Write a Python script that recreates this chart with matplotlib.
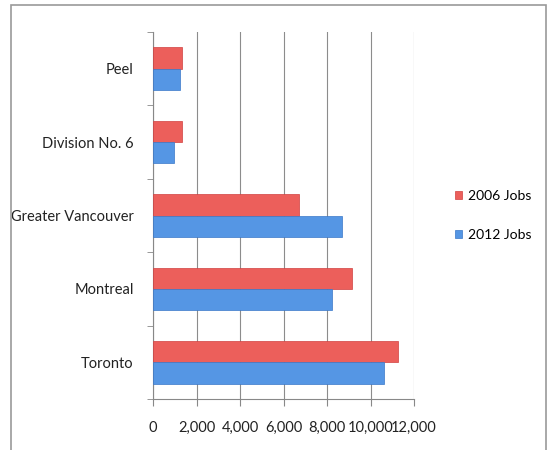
import matplotlib.pyplot as plt
from matplotlib.patches import Rectangle
import numpy as np

# Données
regions = ['Toronto', 'Montreal', 'Greater Vancouver', 'Division No. 6', 'Peel']
jobs_2006 = [11260, 9150, 6710, 1330, 1330]
jobs_2012 = [10620, 8230, 8690, 970, 1240]
xticks = [0, 2000, 4000, 6000, 8000, 10000, 12000]
xtick_labels = ['0', '2,000', '4,000', '6,000', '8,000', '10,000', '12,000']

plt.rcParams['font.family'] = ['Lato', 'DejaVu Sans']

fig = plt.figure(figsize=(5.49, 4.5), dpi=100)
ax = fig.add_axes([0.2787, 0.1133, 0.4754, 0.8156])

y = np.arange(len(regions))
h = 0.29
ax.barh(y + h / 2, jobs_2006, height=h, color='#ec5f5b', edgecolor='#d04040', linewidth=0.5, label='2006 Jobs', zorder=3)
ax.barh(y - h / 2, jobs_2012, height=h, color='#5596e4', edgecolor='#3a78c8', linewidth=0.5, label='2012 Jobs', zorder=3)

ax.set_xlim(0, 12000)
ax.set_ylim(-0.5, len(regions) - 0.5)
ax.set_xticks(xticks)
ax.set_xticklabels(xtick_labels, fontsize=10.5, color='#222222')
ax.set_yticks(y)
ax.set_yticklabels(regions, fontsize=10.5, color='#222222')
ax.set_yticks(np.arange(len(regions) + 1) - 0.5, minor=True)
ax.tick_params(axis='y', which='major', length=0, pad=14)
ax.tick_params(axis='y', which='minor', length=4, color='#888888', direction='out')
ax.tick_params(axis='x', length=5, color='#888888', direction='out', pad=11)
ax.grid(axis='x', color='#8c8c8c', linewidth=0.8, zorder=0)

for s in ['top', 'right']:
    ax.spines[s].set_visible(False)
for s in ['left', 'bottom']:
    ax.spines[s].set_color('#888888')

ax.legend(loc='center left', bbox_to_anchor=(1.11, 0.5), frameon=False, fontsize=10,
          handlelength=0.5, handleheight=0.5, labelspacing=1.9, handletextpad=0.4)

# Cadre autour de la figure
fig.patches.append(Rectangle((0.02, -0.05), 0.975, 1.04, transform=fig.transFigure,
                             fill=False, edgecolor='#9a9a9a', linewidth=1.2))

plt.savefig('out.png', dpi=100)
